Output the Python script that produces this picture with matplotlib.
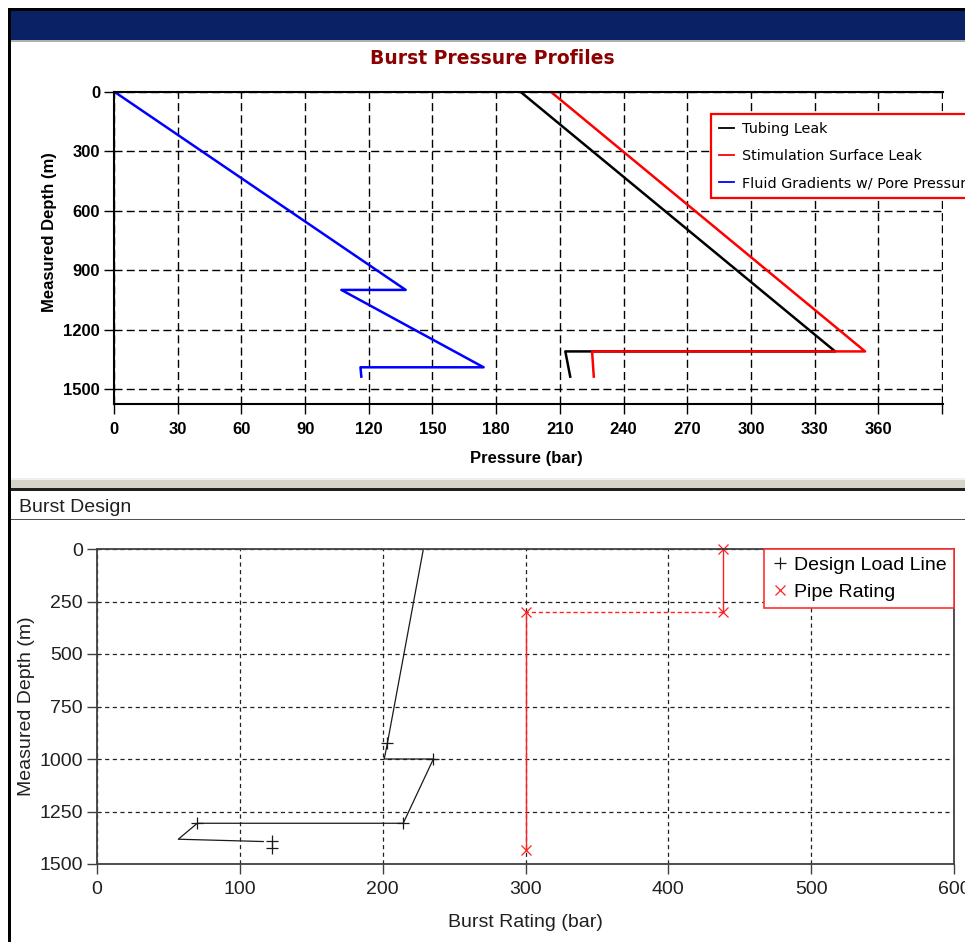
import matplotlib
matplotlib.use("Agg")
import matplotlib.pyplot as plt
from matplotlib.patches import Rectangle

plt.rcParams['lines.scale_dashes'] = False

W, H = 965, 942

# burst pressure profiles (pressure in bar, depth in m)
tubing_p = [191.3, 339.7, 212.6, 214.9]
tubing_d = [0, 1310, 1310, 1437]
stim_p = [205.6, 353.8, 225.2, 226.0]
stim_d = [0, 1310, 1310, 1437]
fluid_p = [0, 137.4, 107.1, 174.1, 116.1, 116.5]
fluid_d = [0, 1000, 1000, 1390, 1390, 1437]
profile_names = ['Tubing Leak', 'Stimulation Surface Leak', 'Fluid Gradients w/ Pore Pressure']

# burst design
load_p = [228.5, 203.3, 201.1, 235.5, 214.4, 70.2, 56.9, 116.4]
load_d = [0, 925, 1000, 1000, 1306, 1306, 1382, 1393]
load_mark_p = [203.3, 235.5, 214.4, 70.2, 122.3, 122.3]
load_mark_d = [925, 1000, 1306, 1306, 1389, 1425]
rating_p = [438, 438, 300, 300]
rating_d = [0, 300, 300, 1433]
design_names = ['Design Load Line', 'Pipe Rating']

pressure_ticks = list(range(0, 391, 30))
depth_ticks_top = list(range(0, 1501, 300))
rating_ticks = list(range(0, 601, 100))
depth_ticks_bottom = list(range(0, 1501, 250))


def box(x0, y0, x1, y1):
    # pixel box (top-left origin) -> figure fraction rect
    return [x0 / W, 1 - y1 / H, (x1 - x0) / W, (y1 - y0) / H]


def rect(x0, y0, x1, y1, color):
    l, b, w, h = box(x0, y0, x1, y1)
    fig.add_artist(Rectangle((l, b), w, h, transform=fig.transFigure,
                             facecolor=color, edgecolor='none', zorder=0))


fig = plt.figure(figsize=(W / 100, H / 100), dpi=100)

# window frame
rect(8, 8, W, 11, 'black')
rect(8, 8, 11, H, 'black')
rect(11, 11, W, 40, '#0b2166')
rect(11, 40, W, 41.5, '#b0b0b0')
rect(11, 478, W, 480, '#f0efea')
rect(11, 480, W, 488, '#d6d3ca')
rect(11, 488, W, 490.5, '#202020')
rect(11, 518.5, W, 519.8, '#505050')

fig.text(492 / W, 1 - 58 / H, 'Burst Pressure Profiles', ha='center', va='center',
         family='DejaVu Sans', weight='bold', fontsize=13.5, color='#8b0000')
fig.text(19 / W, 1 - 507 / H, 'Burst Design', ha='left', va='center',
         family='Liberation Sans', fontsize=14, color='#202020')

# ---- top chart ----
ax1 = fig.add_axes(box(114, 91.5, 943, 404))
ax1.plot(tubing_p, tubing_d, color='black', lw=1.8, label=profile_names[0])
ax1.plot(stim_p, stim_d, color='#ff0000', lw=1.8, label=profile_names[1])
ax1.plot(fluid_p, fluid_d, color='#0000ff', lw=1.8, label=profile_names[2])
ax1.set_xlim(0, 390.5)
ax1.set_ylim(1575, 0)
ax1.set_xticks(pressure_ticks)
ax1.set_xticklabels([str(v) if v <= 360 else '' for v in pressure_ticks],
                    family='Liberation Sans', weight='bold', fontsize=12)
ax1.set_yticks(depth_ticks_top)
ax1.set_yticklabels([str(v) for v in depth_ticks_top],
                    family='Liberation Sans', weight='bold', fontsize=12)
ax1.grid(True, color='black', lw=1.0, linestyle=(0, (5.8, 3.0)))
ax1.set_axisbelow(True)
ax1.spines['right'].set_visible(False)
for s in ('top', 'left', 'bottom'):
    ax1.spines[s].set_linewidth(1.5)
ax1.tick_params(axis='x', direction='out', length=7, width=1, pad=6)
ax1.tick_params(axis='y', direction='out', length=7, width=1, pad=3)
ax1.set_xlabel('Pressure (bar)', family='Liberation Sans', weight='bold', fontsize=12)
ax1.xaxis.set_label_coords(0.498, -0.176)
ax1.xaxis.label.set_va('center')
ax1.set_ylabel('Measured Depth (m)', family='Liberation Sans', weight='bold', fontsize=12)
ax1.yaxis.set_label_coords(-0.078, 0.55)
ax1.yaxis.label.set_va('center')

leg1 = ax1.legend(loc='upper left', bbox_to_anchor=(711 / W, 1 - 114 / H),
                  bbox_transform=fig.transFigure, borderaxespad=0, fancybox=False,
                  edgecolor='#ff0000', framealpha=1, prop={'family': 'DejaVu Sans', 'size': 10.4},
                  handlelength=1.05, handletextpad=0.55, borderpad=0.55, labelspacing=0.92)
leg1.get_frame().set_linewidth(1.6)
for h in leg1.get_lines():
    h.set_linewidth(1.3)

# ---- bottom chart ----
ax2 = fig.add_axes(box(97, 549, 954, 864))
ax2.plot(load_p, load_d, color='#1a1a1a', lw=0.9)
ax2.plot(load_mark_p, load_mark_d, ls='none', marker='+', ms=9, mew=0.9,
         color='#1a1a1a', label=design_names[0])
ax2.plot(rating_p[:2], rating_d[:2], color='#ff2020', lw=1.0)
ax2.plot(rating_p[1:3], rating_d[1:3], color='#ff2020', lw=1.0, linestyle=(0, (3, 2)))
ax2.plot(rating_p[2:], rating_d[2:], color='#ff2020', lw=1.0)
ax2.plot(rating_p, rating_d, ls='none', marker='x', ms=6.5, mew=0.9, color='#ff2020',
         label=design_names[1], clip_on=False)
ax2.set_xlim(0, 600)
ax2.set_ylim(1500, 0)
ax2.set_xticks(rating_ticks)
ax2.set_xticklabels([str(v) for v in rating_ticks], family='Liberation Sans',
                    fontsize=14, color='#202020')
ax2.set_yticks(depth_ticks_bottom)
ax2.set_yticklabels([str(v) for v in depth_ticks_bottom], family='Liberation Sans',
                    fontsize=14, color='#202020')
ax2.grid(True, color='#222222', lw=0.9, linestyle=(0, (3, 2.5)))
ax2.set_axisbelow(True)
for s in ax2.spines.values():
    s.set_color('#404040')
    s.set_linewidth(1.3)
ax2.tick_params(axis='x', direction='out', length=7, width=1, color='#404040', pad=5)
ax2.tick_params(axis='y', direction='out', length=7, width=1, color='#404040', pad=3)
ax2.set_xlabel('Burst Rating (bar)', family='Liberation Sans', fontsize=14, color='#202020')
ax2.xaxis.set_label_coords(0.5, -0.187)
ax2.xaxis.label.set_va('center')
ax2.set_ylabel('Measured Depth (m)', family='Liberation Sans', fontsize=14, color='#202020')
ax2.yaxis.set_label_coords(-0.0817, 0.5)
ax2.yaxis.label.set_va('center')

leg2 = ax2.legend(loc='upper right', bbox_to_anchor=(1, 1), borderaxespad=0, fancybox=False,
                  edgecolor='#ff3030', framealpha=1, prop={'family': 'Liberation Sans', 'size': 14},
                  handlelength=0.9, handletextpad=0.3, borderpad=0.36, labelspacing=0.5)
leg2.get_frame().set_linewidth(1.2)

fig.savefig('out.png', dpi=100)
